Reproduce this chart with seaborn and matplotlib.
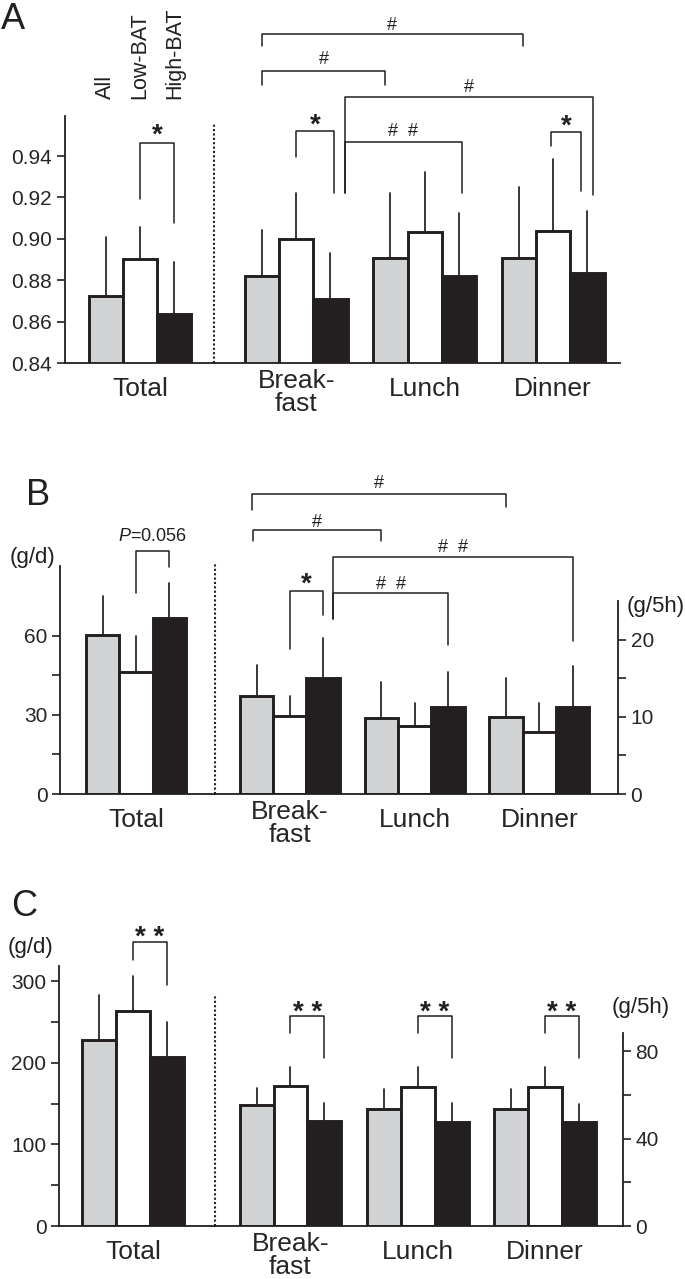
"""
Three-panel bar chart: RQ (A), fat intake (B) and carbohydrate intake (C)
for All / Low-BAT / High-BAT, daily total and per meal.
"""
import numpy as np
import pandas as pd
import seaborn as sns
import matplotlib.pyplot as plt
from matplotlib.transforms import ScaledTranslation

groups = ["All", "Low-BAT", "High-BAT"]
meals = ["Breakfast", "Lunch", "Dinner"]
meal_labels = ["Break-\nfast", "Lunch", "Dinner"]

# A: respiratory quotient (mean, upper SD); meal rows = breakfast, lunch, dinner
a_total = [0.8726, 0.8903, 0.8636]
a_total_sd = [0.0285, 0.0156, 0.0254]
a_meals = [[0.8821, 0.8998, 0.8709], [0.8907, 0.9035, 0.8821], [0.8907, 0.9040, 0.8834]]
a_meals_sd = [[0.0222, 0.0225, 0.0225], [0.0316, 0.0289, 0.0305], [0.0345, 0.0344, 0.0302]]

# B: g/d for total, g/5h for meals
b_total = [60.2, 46.3, 66.6]
b_total_sd = [15.0, 13.6, 13.5]
b_meals = [[12.7, 10.1, 15.0], [9.9, 8.8, 11.3], [10.0, 8.0, 11.3]]
b_meals_sd = [[4.1, 2.6, 5.3], [4.6, 3.0, 4.5], [5.0, 3.8, 5.3]]

# C: g/d for total, g/5h for meals
c_total = [227.7, 263.3, 206.5]
c_total_sd = [55.1, 43.2, 42.9]
c_meals = [[55.3, 64.1, 48.0], [53.3, 63.7, 47.7], [53.3, 63.7, 47.7]]
c_meals_sd = [[7.6, 8.7, 8.4], [9.3, 8.8, 8.4], [9.3, 8.8, 7.9]]

W, H = 685, 1279
BAR_W = 0.8
EDGE = "#231f20"
palette = {"All": "#d1d3d4", "Low-BAT": "#ffffff", "High-BAT": "#231f20"}


def px_rect(x0, x1, ytop, ybase):
    # pixel box -> figure fraction
    return [x0 / W, 1 - ybase / H, (x1 - x0) / W, (ybase - ytop) / H]


def make_frame(cats, means, sds):
    rows = []
    for cat, m_row, s_row in zip(cats, means, sds):
        for g, m, s in zip(groups, m_row, s_row):
            rows.append({"cat": cat, "group": g, "value": m, "sd": s})
    return pd.DataFrame(rows)


def bar_x(gi, hi, dx=0.0):
    return gi + (hi - 1) * BAR_W / 3 + dx


def draw_bars(ax, df, order):
    sns.barplot(data=df, x="cat", y="value", hue="group", order=order, hue_order=groups,
                palette=palette, width=BAR_W, saturation=1, edgecolor=EDGE, linewidth=2.1,
                errorbar=None, legend=False, ax=ax, zorder=2)
    # upper half of the SD only, no caps
    for bar in list(ax.patches):
        xc = bar.get_x() + bar.get_width() / 2
        gi = int(round(xc))
        hi = int(round((xc - gi) / (BAR_W / 3))) + 1
        row = df[(df.cat == order[gi]) & (df.group == groups[hi])].iloc[0]
        ax.plot([xc, xc], [row.value, row.value + row.sd], color=EDGE, lw=1.25, zorder=1)
    ax.set_xlabel("")
    ax.set_ylabel("")


def style_axes(ax, side):
    for s in ["top", "left", "right"]:
        ax.spines[s].set_visible(False)
    ax.spines["bottom"].set_linewidth(1.3)
    ax.spines["bottom"].set_color(EDGE)
    if side:
        ax.spines[side].set_visible(True)
        ax.spines[side].set_linewidth(1.3)
        ax.spines[side].set_color(EDGE)
    ax.tick_params(axis="x", length=0, pad=10, labelsize=19)
    ax.tick_params(axis="y", which="both", direction="out", length=6, width=1.2,
                   labelsize=15, pad=3, color=EDGE)


def bracket(ax, x1, x2, top, b1, b2, label, ty, fs):
    ax.plot([x1, x1, x2, x2], [b1, top, top, b2], color=EDGE, lw=1.1, clip_on=False)
    star = "*" in label
    shift = -0.3 * fs if star else -0.1 * fs
    ax.annotate(label, ((x1 + x2) / 2, ty), xytext=(0, shift), textcoords="offset points",
                ha="center", va="center", fontsize=fs, annotation_clip=False,
                fontweight="bold" if star else "normal")


def add_panel(fig, total, total_sd, meal_vals, meal_sd, box, xl_total, xl_meal,
              yl_total, yl_meal, dot_top):
    x_left, x_div, x_right, y_top, y_base = box
    ax_t = fig.add_axes(px_rect(x_left, x_div, y_top, y_base))
    ax_m = fig.add_axes(px_rect(x_div, x_right, y_top, y_base))
    ax_t.patch.set_alpha(0)
    ax_m.patch.set_alpha(0)

    draw_bars(ax_t, make_frame(["Total"], [total], [total_sd]), ["Total"])
    draw_bars(ax_m, make_frame(meals, meal_vals, meal_sd), meals)

    ax_t.set_xlim(*xl_total)
    ax_m.set_xlim(*xl_meal)
    ax_t.set_ylim(*yl_total)
    ax_m.set_ylim(*yl_meal)

    style_axes(ax_t, "left")
    ax_t.set_xticks([0], ["Total"])
    ax_m.set_xticks(range(3), meal_labels, linespacing=0.93)

    # dotted separator between total and meals
    ax_m.axvline(xl_meal[0], 0, dot_top, color=EDGE, lw=1.5, ls=(0, (1, 1.1)), clip_on=False)
    return ax_t, ax_m


def main():
    sns.set_style("ticks")
    plt.rcParams["font.family"] = ["Liberation Sans", "DejaVu Sans"]
    plt.rcParams["mathtext.fontset"] = "custom"
    plt.rcParams["mathtext.it"] = "Liberation Sans:italic"
    plt.rcParams["mathtext.rm"] = "Liberation Sans"
    plt.rcParams["text.color"] = EDGE

    fig = plt.figure(figsize=(6.85, 12.79), dpi=100)

    """
    A - same scale for total and meals
    """
    ax_t, ax_m = add_panel(fig, a_total, a_total_sd, a_meals, a_meals_sd,
                           (64.7, 214, 620, 116, 363.3), (-0.586, 0.576), (-0.64, 2.52),
                           (0.84, 0.9593), (0.84, 0.9593), 0.97)
    style_axes(ax_m, None)
    ax_m.set_yticks([])
    ax_t.set_yticks(np.arange(0.84, 0.9401, 0.02))
    ax_t.yaxis.set_major_formatter("{x:.2f}")
    for hi, g in enumerate(groups):
        ax_t.text(bar_x(0, hi), 0.9673, g, rotation=90, ha="center", va="bottom",
                  fontsize=15.5, clip_on=False)
    bracket(ax_t, bar_x(0, 1), bar_x(0, 2), 0.9463, 0.9193, 0.9077, "*", 0.9537, 20)
    bracket(ax_m, bar_x(0, 1), bar_x(0, 2, 0.03), 0.9522, 0.9397, 0.9220, "*", 0.9588, 20)
    bracket(ax_m, bar_x(0, 2, 0.11), bar_x(1, 2, 0.02), 0.9469, 0.922, 0.922, "#  #", 0.9525, 13)
    bracket(ax_m, bar_x(0, 2, 0.11), bar_x(2, 2, 0.04), 0.9686, 0.922, 0.9212, "#", 0.9738, 13)
    bracket(ax_m, bar_x(2, 1, -0.02), bar_x(2, 2, -0.05), 0.9517, 0.945, 0.9231, "*", 0.9583, 20)
    bracket(ax_m, bar_x(0, 0), bar_x(1, 0, -0.04), 0.9811, 0.9743, 0.9743, "#", 0.9874, 13)
    bracket(ax_m, bar_x(0, 0), bar_x(2, 0, 0.03), 0.9987, 0.9931, 0.9931, "#", 1.0037, 13)

    """
    B - total in g/d (left), meals in g/5h (right)
    """
    ax_t, ax_m = add_panel(fig, b_total, b_total_sd, b_meals, b_meals_sd,
                           (60.3, 215, 618, 566, 794), (-0.607, 0.633), (-0.60, 2.63),
                           (0, 86.4), (0, 29.6), 1.01)
    style_axes(ax_m, "right")
    ax_m.yaxis.tick_right()
    ax_m.spines["right"].set_bounds(0, 25)
    ax_t.set_yticks([0, 30, 60])
    ax_t.set_yticks([15, 45], minor=True)
    ax_m.set_yticks([0, 10, 20])
    ax_m.set_yticks([5, 15], minor=True)
    bracket(ax_t, bar_x(0, 1), bar_x(0, 2), 92.2, 76.3, 85.9, "$P$=0.056", 98.1, 13)
    bracket(ax_m, bar_x(0, 1), bar_x(0, 2), 26.4, 18.8, 23.2, "*", 28.2, 20)
    bracket(ax_m, bar_x(0, 2, 0.08), bar_x(1, 2), 26.06, 22.7, 19.3, "#  #", 27.4, 13)
    bracket(ax_m, bar_x(0, 2, 0.08), bar_x(2, 2), 30.8, 22.7, 19.8, "#  #", 32.2, 13)
    bracket(ax_m, bar_x(0, 0, -0.03), bar_x(1, 0), 34.3, 32.9, 32.9, "#", 35.5, 13)
    bracket(ax_m, bar_x(0, 0, -0.04), bar_x(2, 0), 38.9, 36.9, 37.3, "#", 40.6, 13)
    fig.text(32.8 / W, 1 - 558 / H, "(g/d)", ha="center", va="center", fontsize=16)
    fig.text(656 / W, 1 - 606.7 / H, "(g/5h)", ha="center", va="center", fontsize=16)

    """
    C - total in g/d (left), meals in g/5h (right)
    """
    ax_t, ax_m = add_panel(fig, c_total, c_total_sd, c_meals, c_meals_sd,
                           (59, 215.4, 622.6, 966, 1226), (-0.58, 0.647), (-0.59, 2.61),
                           (0, 318.4), (0, 118.9), 0.89)
    style_axes(ax_m, "right")
    ax_m.yaxis.tick_right()
    ax_m.spines["right"].set_bounds(0, 88.2)
    ax_t.set_yticks([0, 100, 200, 300])
    ax_t.set_yticks([50, 150, 250], minor=True)
    ax_m.set_yticks([0, 40, 80])
    ax_m.set_yticks([20, 60], minor=True)
    bracket(ax_t, bar_x(0, 1), bar_x(0, 2), 347.4, 325.7, 295.1, "* *", 362.4, 20)
    for gi in range(3):
        bracket(ax_m, bar_x(gi, 1), bar_x(gi, 2), 96.0, 88.1, 76.7, "* *", 101.0, 20)
    fig.text(30.6 / W, 1 - 948 / H, "(g/d)", ha="center", va="center", fontsize=16)
    fig.text(641 / W, 1 - 1007.5 / H, "(g/5h)", ha="center", va="center", fontsize=16)

    # lift the two-line "Break-fast" labels a little
    for ax in fig.axes:
        labels = ax.get_xticklabels()
        if len(labels) == 3:
            labels[0].set_transform(labels[0].get_transform()
                                    + ScaledTranslation(0, 0.08, fig.dpi_scale_trans))

    # panel letters
    fig.text(1 / W, 1 - 29.3 / H, "A", va="baseline", fontsize=26)
    fig.text(26 / W, 1 - 505 / H, "B", va="baseline", fontsize=26)
    fig.text(11 / W, 1 - 916 / H, "C", va="baseline", fontsize=26)

    fig.savefig("out.png", dpi=100)


if __name__ == "__main__":
    main()
